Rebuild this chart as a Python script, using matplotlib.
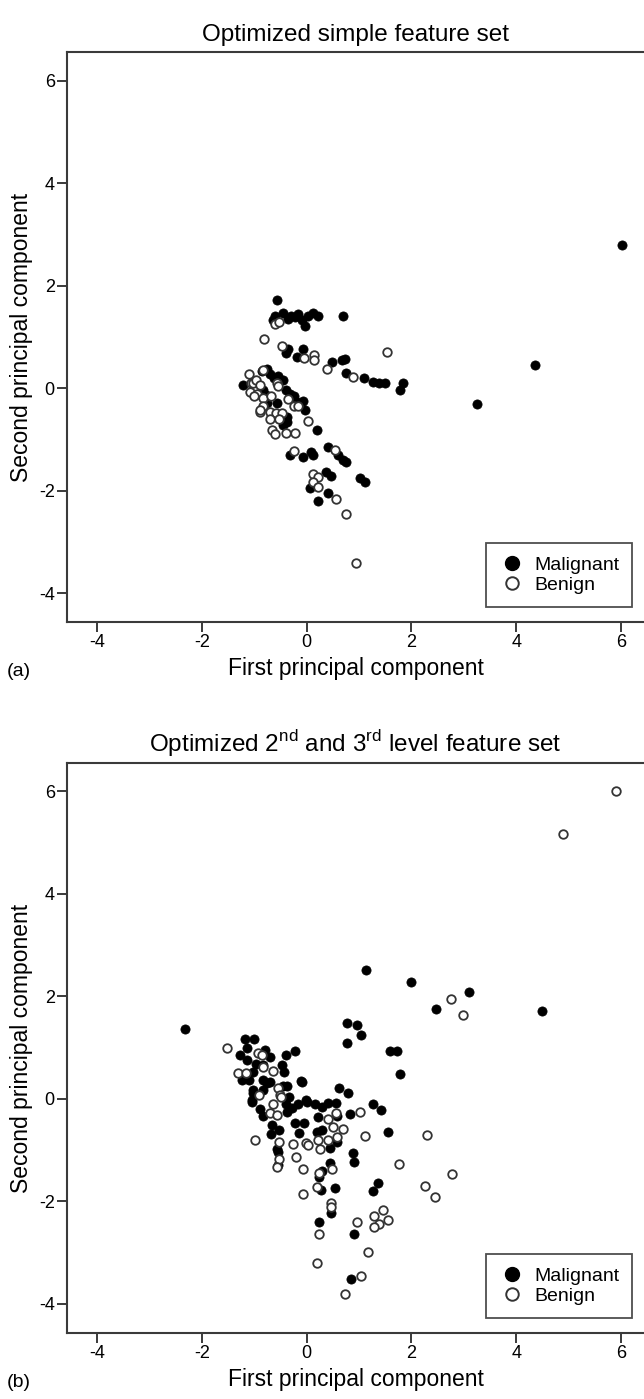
import numpy as np
import matplotlib
matplotlib.use("Agg")
import matplotlib.pyplot as plt
from matplotlib.lines import Line2D

plt.rcParams['font.family'] = ['Liberation Sans', 'DejaVu Sans']
plt.rcParams['mathtext.fontset'] = 'custom'
plt.rcParams['mathtext.rm'] = 'Liberation Sans'

# Panel (a): optimized simple feature set
mal_a_x = [-0.56, -0.65, -0.60, -0.45, -0.35, -0.30, -0.22, -0.16, -0.09, -0.03, 0.03, 0.13, 0.22, 0.69,
           -0.35, -0.39, -0.075, -0.19, 0.48, 0.67, 0.73, 0.75, 1.10, 1.26, 1.39, 1.50, 1.83, 1.78,
           -1.21, -0.86, -0.75, -0.70, -0.63, -0.54, -0.45, -0.39, -0.32, -0.25, -0.19, -0.075, -0.03, 0.20,
           -0.84, -0.77, -0.57, -0.75, -0.38, -0.37, -0.45,
           -0.32, -0.075, 0.08, 0.13, 0.41, 0.60, 0.69, 0.75, 0.37, 0.46, 0.07, 0.41, 0.21, 1.02, 1.11,
           3.25, 4.35, 6.02]
mal_a_y = [1.72, 1.33, 1.40, 1.46, 1.35, 1.40, 1.39, 1.45, 1.33, 1.21, 1.40, 1.47, 1.40, 1.41,
           0.755, 0.68, 0.76, 0.61, 0.50, 0.55, 0.57, 0.29, 0.20, 0.12, 0.09, 0.09, 0.10, -0.03,
           0.06, 0.34, 0.38, 0.27, 0.19, 0.23, 0.16, -0.03, -0.12, -0.16, -0.27, -0.25, -0.43, -0.81,
           -0.04, -0.13, -0.30, -0.30, -0.56, -0.66, -0.72,
           -1.31, -1.35, -1.25, -1.30, -1.15, -1.31, -1.41, -1.44, -1.63, -1.71, -1.96, -2.04, -2.20, -1.76, -1.84,
           -0.32, 0.45, 2.80]

ben_a_x = [-0.60, -0.52, -0.81, -0.475, -0.05, 0.14, 0.14, 0.38, 0.89, 1.54,
           -1.11, -1.07, -1.02, -0.97, -0.89, -1.08, -0.94, -1.00, -0.84, -0.56, -0.54, -0.35, -0.25, -0.16,
           0.03, -0.84, -0.69, -0.84, -0.89, -0.90, -0.70, -0.58, -0.47, -0.70, -0.52, -0.67, -0.61, -0.39, -0.22,
           -0.24, 0.54, 0.12, 0.22, 0.12, 0.22, 0.56, 0.75, 0.94]
ben_a_y = [1.25, 1.28, 0.95, 0.82, 0.58, 0.64, 0.55, 0.38, 0.21, 0.71,
           0.27, 0.10, 0.10, 0.16, 0.06, -0.07, -0.12, -0.16, 0.35, 0.10, 0.03, -0.22, -0.35, -0.35,
           -0.64, -0.20, -0.16, -0.36, -0.46, -0.42, -0.46, -0.49, -0.48, -0.61, -0.61, -0.81, -0.89, -0.88, -0.88,
           -1.22, -1.20, -1.68, -1.73, -1.83, -1.93, -2.17, -2.45, -3.41]

# Panel (b): optimized 2nd and 3rd level feature set
mal_b_x = [-2.32,
           -1.18, -1.00, -1.14, -1.27, -1.13, -1.24, -1.10, -1.03, -0.97, -1.03, -1.05,
           -0.79, -0.70, -0.83, -0.48, -0.44, -0.83, -0.70, -0.38, -1.02, -0.83, -0.33, -0.01,
           -0.22, -0.39, -0.11, 0.62, 0.78,
           1.13, 1.99, 3.09, 2.47, 0.77, 0.96, 1.04, 0.77, 1.60, 1.73, 1.78, 4.50,
           -0.76, -0.45, -0.09, -1.04,
           -0.39, -0.28, -0.16, 0.00, 0.16, 0.29, 0.41, 0.56, 0.57, 1.26, 1.41,
           -0.89, -0.83, -0.67, -0.52, -0.37, -0.22, -0.05, -0.14, 0.22, 0.19, 0.29, 0.83, 1.56, -0.69,
           0.57, 0.44, -0.57, -0.54, 0.88, 0.90, -0.55, 0.44, 0.30, 0.24, 0.27, 0.54, 1.37, 1.26,
           0.46, 0.24, 0.90, 0.84]
mal_b_y = [1.36,
           1.17, 1.17, 0.99, 0.86, 0.76, 0.38, 0.38, 0.53, 0.69, 0.11, -0.02,
           0.96, 0.81, 0.66, 0.66, 0.53, 0.37, 0.34, 0.25, 0.17, 0.17, 0.04, -0.02,
           0.94, 0.86, 0.36, 0.21, 0.12,
           2.51, 2.29, 2.09, 1.75, 1.49, 1.44, 1.24, 1.10, 0.93, 0.94, 0.48, 1.72,
           0.31, 0.25, 0.34, -0.05,
           -0.10, -0.18, -0.10, -0.05, -0.10, -0.16, -0.08, -0.07, -0.33, -0.10, -0.22,
           -0.20, -0.33, -0.51, -0.61, -0.25, -0.47, -0.46, -0.66, -0.36, -0.64, -0.61, -0.29, -0.64, -0.68,
           -0.84, -0.95, -0.98, -1.03, -1.05, -1.22, -1.29, -1.24, -1.40, -1.53, -1.78, -1.74, -1.63, -1.79,
           -2.22, -2.40, -2.64, -3.52]

ben_b_x = [-1.52, -1.32, -1.15, -0.92, -0.91, -0.86, -0.83, -0.65, -0.54, -0.50,
           2.76, 2.99, 4.90, 5.90,
           -0.65, -0.49, 0.56, 0.41, 1.02, -0.70, -0.57,
           0.50, 0.69, 1.11, -0.98, -0.52, -0.27, -0.01, 0.03, 0.22, 0.41, 0.57, 0.26,
           -0.20, -0.52, -0.57, -0.07, 0.48, 0.24, 1.77, 0.20, -0.07, 0.46, 0.46,
           1.45, 1.28, 1.56, 1.39, 1.28, 0.96, 0.24, 1.18, 0.20, 1.04, 0.73,
           2.30, 2.25, 2.45, 2.78]
ben_b_y = [0.99, 0.51, 0.51, 0.89, 0.08, 0.86, 0.63, 0.55, 0.21, 0.07,
           1.95, 1.64, 5.18, 6.00,
           -0.10, 0.03, -0.27, -0.40, -0.25, -0.27, -0.31,
           -0.54, -0.59, -0.72, -0.81, -0.83, -0.87, -0.86, -0.89, -0.81, -0.80, -0.74, -0.98,
           -1.13, -1.18, -1.33, -1.37, -1.37, -1.44, -1.27, -1.71, -1.86, -2.02, -2.10,
           -2.17, -2.29, -2.36, -2.44, -2.49, -2.40, -2.64, -2.98, -3.20, -3.45, -3.80,
           -0.70, -1.70, -1.92, -1.47]

ticks = [-4, -2, 0, 2, 4, 6]
spine_col = '#3a3a3a'

fig = plt.figure(figsize=(6.44, 13.99), dpi=100)
ax_a = fig.add_axes([0.1045, 0.5556, 0.8955, 0.4070])
ax_b = fig.add_axes([0.1045, 0.0474, 0.8955, 0.4070])

panels = [
    (ax_a, mal_a_x, mal_a_y, ben_a_x, ben_a_y, 'Optimized simple feature set', '(a)'),
    (ax_b, mal_b_x, mal_b_y, ben_b_x, ben_b_y,
     'Optimized 2$^{\\mathrm{nd}}$ and 3$^{\\mathrm{rd}}$ level feature set', '(b)'),
]

for ax, mx, my, bx, by, title, tag in panels:
    ax.scatter(mx, my, s=44, c='black', edgecolors='black', linewidths=0.5, zorder=3)
    ax.scatter(bx, by, s=38, facecolors='white', edgecolors='#333333', linewidths=1.3, zorder=4)
    ax.set_xlim(-4.57, 6.44)
    ax.set_ylim(-4.56, 6.55)
    ax.set_xticks(ticks)
    ax.set_yticks(ticks)
    ax.set_xticklabels([str(t) for t in ticks])
    ax.set_yticklabels([str(t) for t in ticks])
    ax.tick_params(direction='out', length=7, width=1.4, color=spine_col,
                   labelsize=13, pad=2)
    for side in ['left', 'bottom', 'top']:
        ax.spines[side].set_color(spine_col)
        ax.spines[side].set_linewidth(1.5)
    ax.spines['right'].set_visible(False)
    ax.set_title(title, fontsize=17.5, pad=8)
    ax.set_xlabel('First principal component', fontsize=16.5, labelpad=4)
    ax.set_ylabel('Second principal component', fontsize=16.5, labelpad=4)
    ax.text(-0.105, -0.088, tag, transform=ax.transAxes, fontsize=14, va='center', ha='left')

    handles = [
        Line2D([0], [0], marker='o', linestyle='none', markersize=10,
               markerfacecolor='black', markeredgecolor='black'),
        Line2D([0], [0], marker='o', linestyle='none', markersize=9,
               markerfacecolor='white', markeredgecolor='#333333', markeredgewidth=1.4),
    ]
    leg = ax.legend(handles, ['Malignant', 'Benign'], loc='lower right',
                    bbox_to_anchor=(0.979, 0.026), fontsize=14, frameon=True,
                    fancybox=False, borderpad=0.65, handletextpad=0.45,
                    labelspacing=0.15, handlelength=1.4, borderaxespad=0)
    leg.get_frame().set_edgecolor('#222222')
    leg.get_frame().set_linewidth(1.3)

fig.savefig('out.png', dpi=100)
